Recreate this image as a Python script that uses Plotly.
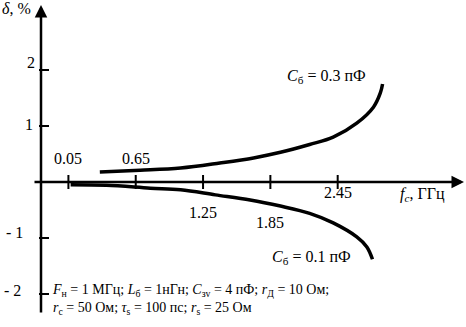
import plotly.graph_objects as go

# ---- data ----
f_upper = [0.33, 0.69, 1.05, 1.40, 1.70, 1.94, 2.20, 2.41, 2.62, 2.77, 2.83, 2.85]
d_upper = [0.18, 0.21, 0.25, 0.34, 0.43, 0.53, 0.67, 0.80, 1.05, 1.34, 1.59, 1.75]

f_lower = [0.07, 0.39, 0.78, 1.05, 1.36, 1.67, 1.94, 2.20, 2.41, 2.62, 2.71, 2.76]
d_lower = [-0.05, -0.06, -0.11, -0.14, -0.23, -0.32, -0.43, -0.56, -0.73, -0.98, -1.16, -1.38]

x_ticks = [0.05, 0.65, 1.25, 1.85, 2.45]
x_tick_labels = ["0.05", "0.65", "1.25", "1.85", "2.45"]
y_ticks = [2, 1, -1, -2]
y_tick_labels = ["2", "1", "- 1", "- 2"]

FONT = "Liberation Serif, Times New Roman, DejaVu Serif, serif"
W, H = 466, 327
PX_X = 112.2   # px per GHz
PX_Y = 56.0    # px per %
X0 = -62.8 / PX_X
X1 = (W - 62.8) / PX_X
Y1 = 182 / PX_Y
Y0 = (182 - H) / PX_Y
YAX_X = (41 - 62.8) / PX_X

fig = go.Figure()
fig.add_trace(go.Scatter(x=f_upper, y=d_upper, mode="lines",
                         line=dict(color="black", width=3.5, shape="spline"),
                         showlegend=False, hoverinfo="skip"))
fig.add_trace(go.Scatter(x=f_lower, y=d_lower, mode="lines",
                         line=dict(color="black", width=3.5, shape="spline"),
                         showlegend=False, hoverinfo="skip"))

shapes = []
for xv in x_ticks:
    shapes.append(dict(type="line", xref="x", yref="y", x0=xv, x1=xv,
                       y0=-7 / PX_Y, y1=7 / PX_Y,
                       line=dict(color="black", width=2)))
for yv in y_ticks:
    shapes.append(dict(type="line", xref="x", yref="y",
                       x0=YAX_X - 2 / PX_X, x1=YAX_X + 8 / PX_X, y0=yv, y1=yv,
                       line=dict(color="black", width=2)))

ann = []
# axes with arrows
ann.append(dict(x=(464 - 62.8) / PX_X, y=0, ax=(33 - 62.8) / PX_X, ay=0,
                xref="x", yref="y", axref="x", ayref="y", text="",
                showarrow=True, arrowhead=2, arrowsize=1, arrowwidth=2.5,
                arrowcolor="black"))
ann.append(dict(x=YAX_X, y=(182 - 5) / PX_Y, ax=YAX_X, ay=(182 - 314) / PX_Y,
                xref="x", yref="y", axref="x", ayref="y", text="",
                showarrow=True, arrowhead=2, arrowsize=1, arrowwidth=2.5,
                arrowcolor="black"))

# x tick labels (staggered like the original)
x_label_shift = [24, 24, -30, -40, -10]
for xv, t, s in zip(x_ticks, x_tick_labels, x_label_shift):
    ann.append(dict(x=xv, y=0, xref="x", yref="y", text=t, showarrow=False,
                    yshift=s, font=dict(family=FONT, size=16, color="black")))
# y tick labels
y_label_xshift = [-4, -6, -16, -18]
y_label_yshift = [8, 2, 6, 4]
for yv, t, xs, ys in zip(y_ticks, y_tick_labels, y_label_xshift, y_label_yshift):
    ann.append(dict(x=YAX_X, y=yv, xref="x", yref="y", text=t, showarrow=False,
                    xanchor="right", xshift=xs, yshift=ys,
                    font=dict(family=FONT, size=16, color="black")))

# axis titles
ann.append(dict(x=0, y=1, xref="paper", yref="paper", xanchor="left", yanchor="top",
                text="<i>δ</i>, %", showarrow=False, yshift=2,
                font=dict(family=FONT, size=16, color="black")))
ann.append(dict(x=(398 - 62.8) / PX_X, y=0, xref="x", yref="y", xanchor="left",
                text="<i>f</i><sub><i>c</i></sub>, ГГц", showarrow=False, yshift=-12,
                font=dict(family=FONT, size=16, color="black")))

# curve labels
ann.append(dict(x=(285 - 62.8) / PX_X, y=(182 - 76) / PX_Y, xref="x", yref="y",
                xanchor="left", text="<i>C</i><sub>б</sub> = 0.3 пФ", showarrow=False,
                font=dict(family=FONT, size=16, color="black")))
ann.append(dict(x=(270 - 62.8) / PX_X, y=(182 - 257) / PX_Y, xref="x", yref="y",
                xanchor="left", text="<i>C</i><sub>б</sub> = 0.1 пФ", showarrow=False,
                font=dict(family=FONT, size=16, color="black")))

# parameter note
ann.append(dict(x=50 / W, y=1 - 280 / H, xref="paper", yref="paper",
                xanchor="left", yanchor="top", align="left", showarrow=False,
                text="<i>F</i><sub>н</sub> = 1 МГц; <i>L</i><sub>б</sub> = 1нГн; "
                     "<i>C</i><sub>зv</sub> = 4 пФ; <i>r</i><sub>Д</sub> = 10 Ом;<br>"
                     "<i>r</i><sub>c</sub> = 50 Ом; <i>τ</i><sub>s</sub> = 100 пс; "
                     "<i>r</i><sub>s</sub> = 25 Ом",
                font=dict(family=FONT, size=14, color="black")))

fig.update_layout(
    width=W, height=H,
    margin=dict(l=0, r=0, t=0, b=0),
    paper_bgcolor="white", plot_bgcolor="white",
    font=dict(family=FONT, color="black"),
    xaxis=dict(range=[X0, X1], visible=False, fixedrange=True),
    yaxis=dict(range=[Y0, Y1], visible=False, fixedrange=True),
    shapes=shapes, annotations=ann, showlegend=False,
)
fig.write_html("out.html", config={"displayModeBar": False},
               post_script="document.body.style.margin='0';document.body.style.padding='0';document.body.style.overflow='hidden';")
